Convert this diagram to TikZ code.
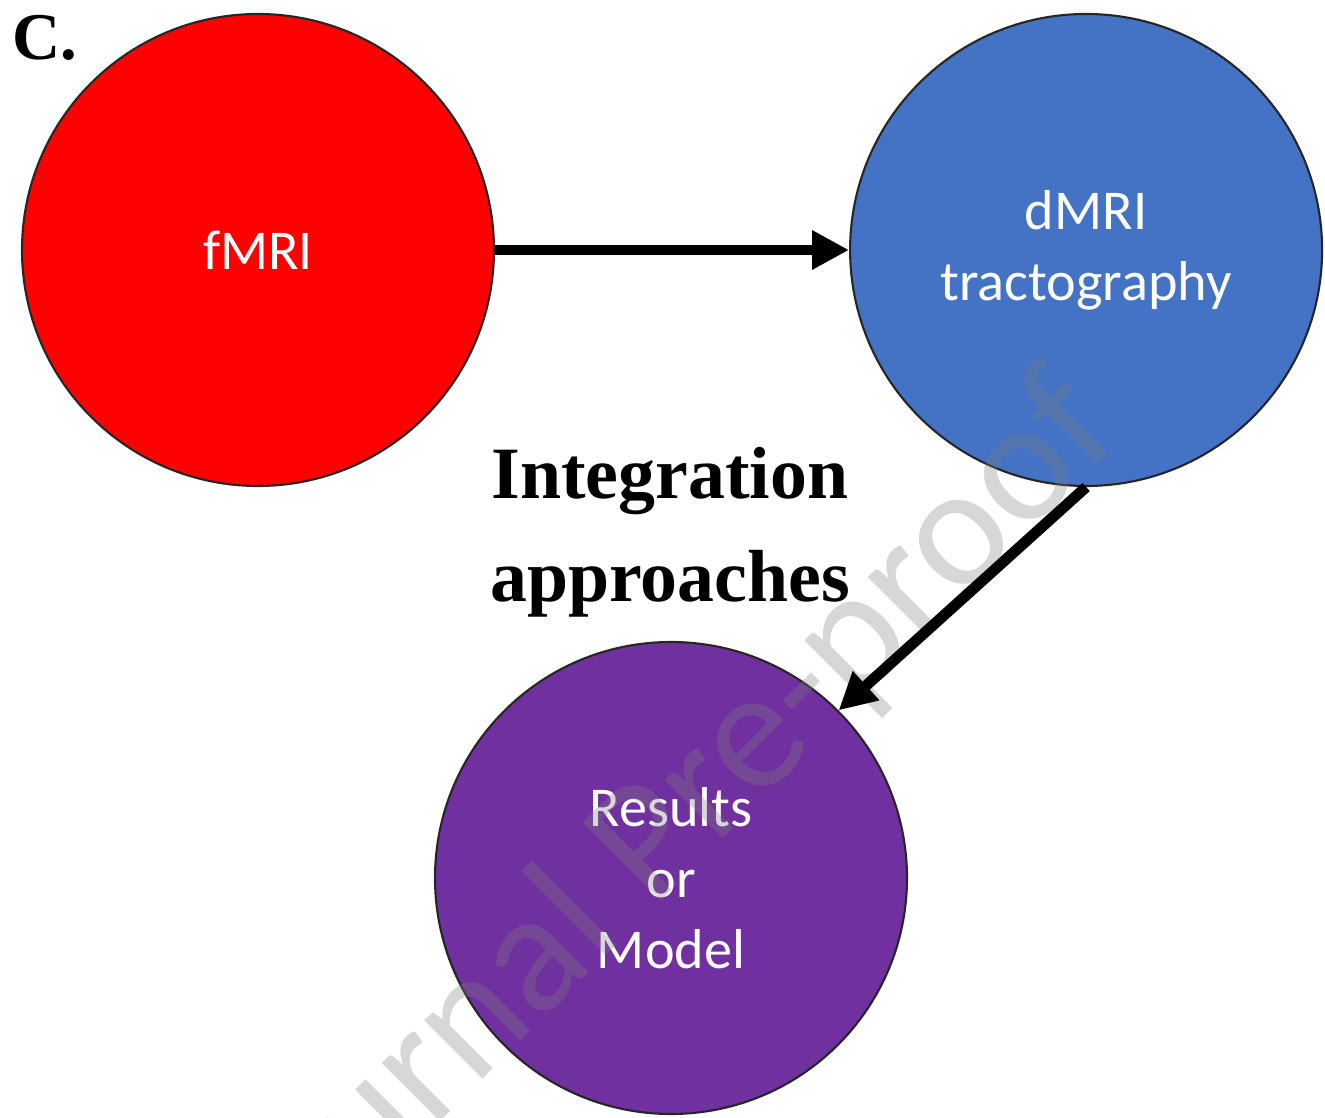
\documentclass[tikz,border=0pt]{standalone}
\usepackage{fontspec}
\setmainfont{Liberation Serif}
\newfontfamily\bodyfont{Carlito}
\usetikzlibrary{arrows.meta,positioning}
\definecolor{FuncRed}{HTML}{FF0000}
\definecolor{DiffBlue}{HTML}{4472C4}
\definecolor{OutPurple}{HTML}{7030A0}
\definecolor{Mark}{RGB}{126,126,126}

\begin{document}
\begin{tikzpicture}[
    stage/.style={circle,draw=black!85,line width=0.6pt,minimum size=4.72cm,
      inner sep=0pt,text=white,align=center,
      font=\bodyfont\fontsize{16}{20.2}\selectfont},
    flow/.style={-{Triangle[length=0.37cm,width=0.37cm]},line width=3.1pt}]
  \useasboundingbox (0,0) rectangle (13.25,11.17);

  % three stages of the pipeline
  \node[stage,fill=FuncRed] (fmri) at (2.58,8.67) {fMRI};
  \node[stage,fill=DiffBlue,right=3.54cm of fmri] (dmri) {dMRI\\tractography};
  \node[stage,fill=OutPurple] (result) at (6.71,2.39) {Results\\or\\Model};

  \node[anchor=base west,inner sep=0pt,
        font=\bfseries\fontsize{19}{20}\selectfont] (panel) at (0.12,10.57) {C.};
  \node[align=center,inner sep=0pt,
        font=\bfseries\fontsize{21}{29.4}\selectfont] (title) at (6.70,5.85)
    {Integration\\approaches};

  % watermark of the source page
  \node[rotate=45,anchor=base,text=Mark,text opacity=0.31,
        font=\bodyfont\fontsize{49}{50}\selectfont] (mark) at (6.95,2.50)
    {Journal Pre-proof};

  \draw[flow] (fmri.east) -- (dmri.west);
  \draw[flow] (dmri.south) -- (result.45);
\end{tikzpicture}
\end{document}
